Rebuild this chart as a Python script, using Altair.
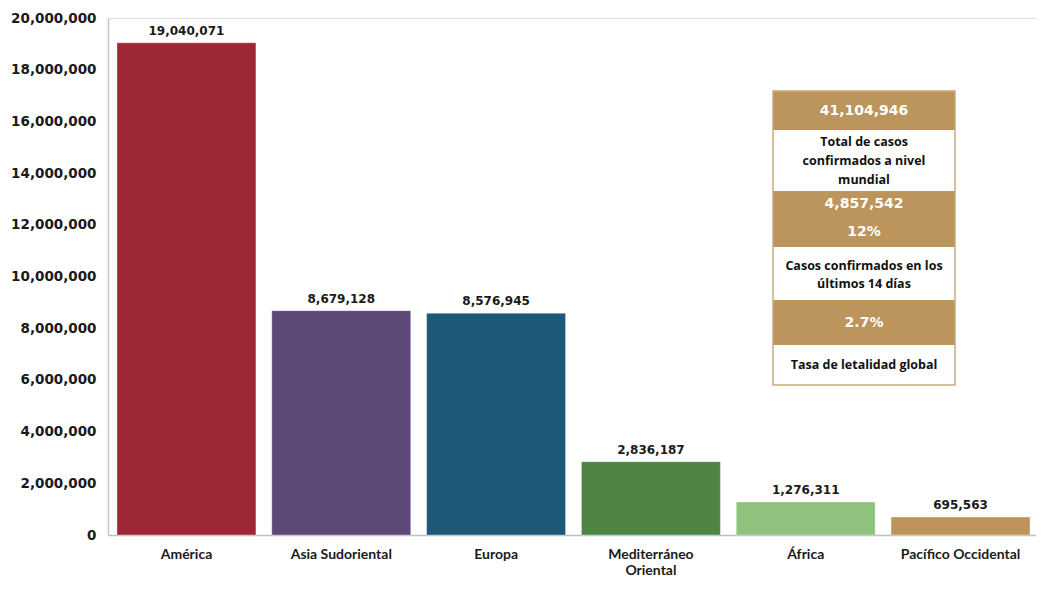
import altair as alt
import pandas as pd

regions = ["América", "Asia Sudoriental", "Europa", "Mediterráneo Oriental", "África", "Pacífico Occidental"]
cases = [19040071, 8679128, 8576945, 2836187, 1276311, 695563]
colors = ["#9E2837", "#5E4878", "#1E5879", "#4E8544", "#8EC27D", "#BE935A"]
y_ticks = [0, 2000000, 4000000, 6000000, 8000000, 10000000, 12000000, 14000000, 16000000, 18000000, 20000000]

box_values = ["41,104,946", "4,857,542", "12%", "2.7%"]
box_captions = [["Total de casos", "confirmados a nivel", "mundial"],
                ["Casos confirmados en los", "últimos 14 días"],
                ["Tasa de letalidad global"]]

W, H = 928, 517
GOLD = "#BC955C"
NUM_FONT = "DejaVu Sans"

df = pd.DataFrame({"region": regions, "cases": cases,
                   "label": [f"{v:,}" for v in cases]})

x = alt.X("region:N", sort=regions, title=None,
          scale=alt.Scale(paddingInner=0.1026, paddingOuter=0.0484, align=0.6),
          axis=alt.Axis(labelAngle=0, labelFont="Lato", labelFontSize=14, labelFontWeight="bold",
                        labelColor="#1a1a1a", labelPadding=12, ticks=False,
                        domainColor="#bfbfbf", domainWidth=1.5, labelLimit=300,
                        labelExpr="datum.value == 'Mediterráneo Oriental' ? ['Mediterráneo', 'Oriental'] : datum.value"))
y = alt.Y("cases:Q", title=None,
          scale=alt.Scale(domain=[0, 20000000], nice=False),
          axis=alt.Axis(values=y_ticks, format=",.0f", grid=False, ticks=False,
                        labelFont=NUM_FONT, labelFontSize=13.5, labelFontWeight="bold",
                        labelColor="#1a1a1a", labelPadding=12,
                        domainColor="#c8c8c8", domainWidth=1.5))

bars = alt.Chart(df).mark_bar(stroke="#ffffff", strokeOpacity=0.35, strokeWidth=1).encode(
    x=x, y=y,
    color=alt.Color("region:N", sort=regions, scale=alt.Scale(domain=regions, range=colors), legend=None),
)
labels = alt.Chart(df).mark_text(dy=-12, font=NUM_FONT, fontSize=12, fontWeight="bold",
                                  color="#1a1a1a").encode(x=x, y=y, text="label:N")

# info box (annotation panel, pixel layout)
bx0, bx1 = 665, 847
row_tops = [73, 112, 173, 229, 282, 327]
row_bots = [112, 173, 229, 282, 327, 367]
row_fill = [GOLD, "#ffffff", GOLD, "#ffffff", GOLD, "#ffffff"]
rows = pd.DataFrame({"x0": [bx0] * 6, "x1": [bx1] * 6, "y0": row_tops, "y1": row_bots, "fill": row_fill})
px = lambda f: alt.X(f, scale=None, axis=None)
py = lambda f: alt.Y(f, scale=None, axis=None)
rects = alt.Chart(rows).mark_rect().encode(
    x=px("x0:Q"), x2="x1:Q", y=py("y0:Q"), y2="y1:Q",
    fill=alt.Fill("fill:N", scale=None),
)
border = alt.Chart(pd.DataFrame({"x0": [bx0], "x1": [bx1], "y0": [73], "y1": [367]})).mark_rect(
    fill=None, stroke="#C9AB7E", strokeWidth=1.5).encode(
    x=px("x0:Q"), x2="x1:Q", y=py("y0:Q"), y2="y1:Q",
)
cx = (bx0 + bx1) / 2
val_df = pd.DataFrame({"t": box_values, "x": [cx] * 4, "y": [93, 186, 214, 305]})
val_text = alt.Chart(val_df).mark_text(font=NUM_FONT, fontSize=14, fontWeight="bold",
                                       color="#ffffff", baseline="middle").encode(
    x=px("x:Q"), y=py("y:Q"), text="t:N")
cap_lines = box_captions[0] + box_captions[1] + box_captions[2]
cap_df = pd.DataFrame({"t": cap_lines, "x": [cx] * len(cap_lines), "y": [124, 143, 162, 248, 266, 347]})
cap_text = alt.Chart(cap_df).mark_text(font="Open Sans", fontSize=12.5, fontWeight="bold",
                                       color="#111111", baseline="middle").encode(
    x=px("x:Q"), y=py("y:Q"), text="t:N")

chart = alt.layer(bars, labels, rects, border, val_text, cap_text).properties(
    width=W, height=H,
    autosize=alt.AutoSizeParams(type="none"),
    padding={"left": 100, "top": 10, "right": 0, "bottom": 50},
).configure_view(stroke=None).configure(background="#ffffff")

chart.save("out.html", embed_options={"renderer": "svg", "actions": False})
